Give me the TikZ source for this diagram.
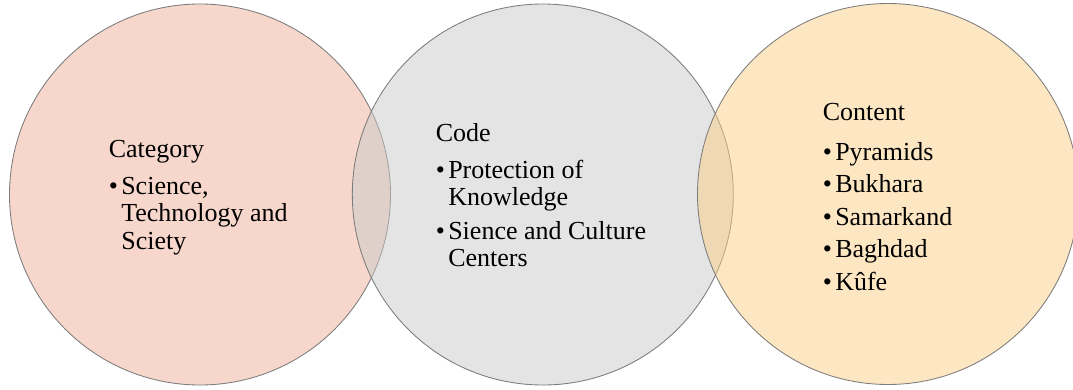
\documentclass[tikz,border=0pt]{standalone}
\usepackage{fontspec}
\setmainfont{Liberation Serif}
\usepackage{xcolor}
\usepackage{tikz}

\definecolor{catfill}{RGB}{239,175,151}
\definecolor{codefill}{RGB}{201,201,201}
\definecolor{contfill}{RGB}{251,207,135}
\definecolor{rimgray}{RGB}{125,125,125}
\newcommand{\bul}{\makebox[9.4pt][l]{\textbullet}}
\newcommand{\ind}{\hspace*{9.4pt}}

\begin{document}
\begin{tikzpicture}[x=0.75pt,y=0.75pt,yscale=-1,xscale=1,
  venn/.style={circle,draw=rimgray,line width=0.65pt,fill opacity=0.5,inner sep=0pt,outer sep=0pt,minimum size=285.75pt},
  blurb/.style={anchor=base west,inner sep=0pt,font=\fontsize{19.5}{20.6}\selectfont}]
\useasboundingbox (0,0) rectangle (1073,389);

%Shape: Circle [id:cat]
\node [venn,fill=catfill] (cat) at (200,194.5) {};
%Shape: Circle [id:code]
\node [venn,fill=codefill] (code) at (542.8,194.5) {};
%Shape: Circle [id:cont]
\node [venn,fill=contfill] (cont) at (888,194) {};

% Text Node
\node [blurb] (cattxt) at (108.5,157) {\begin{tabular}[t]{@{}l@{}}Category\\[7.5pt]\bul Science,\\\ind Technology and\\\ind Sciety\end{tabular}};
% Text Node
\node [blurb] (codetxt) at (435.5,141) {\begin{tabular}[t]{@{}l@{}}Code\\[7.5pt]\bul Protection of\\\ind Knowledge\\[4.2pt]\bul Sience and Culture\\\ind Centers\end{tabular}};
% Text Node
\node [blurb] (conttxt) at (822.5,120) {\begin{tabular}[t]{@{}l@{}}Content\\[9.5pt]\bul Pyramids\\[3.8pt]\bul Bukhara\\[3.8pt]\bul Samarkand\\[3.8pt]\bul Baghdad\\[3.8pt]\bul Kûfe\end{tabular}};

\end{tikzpicture}
\end{document}
